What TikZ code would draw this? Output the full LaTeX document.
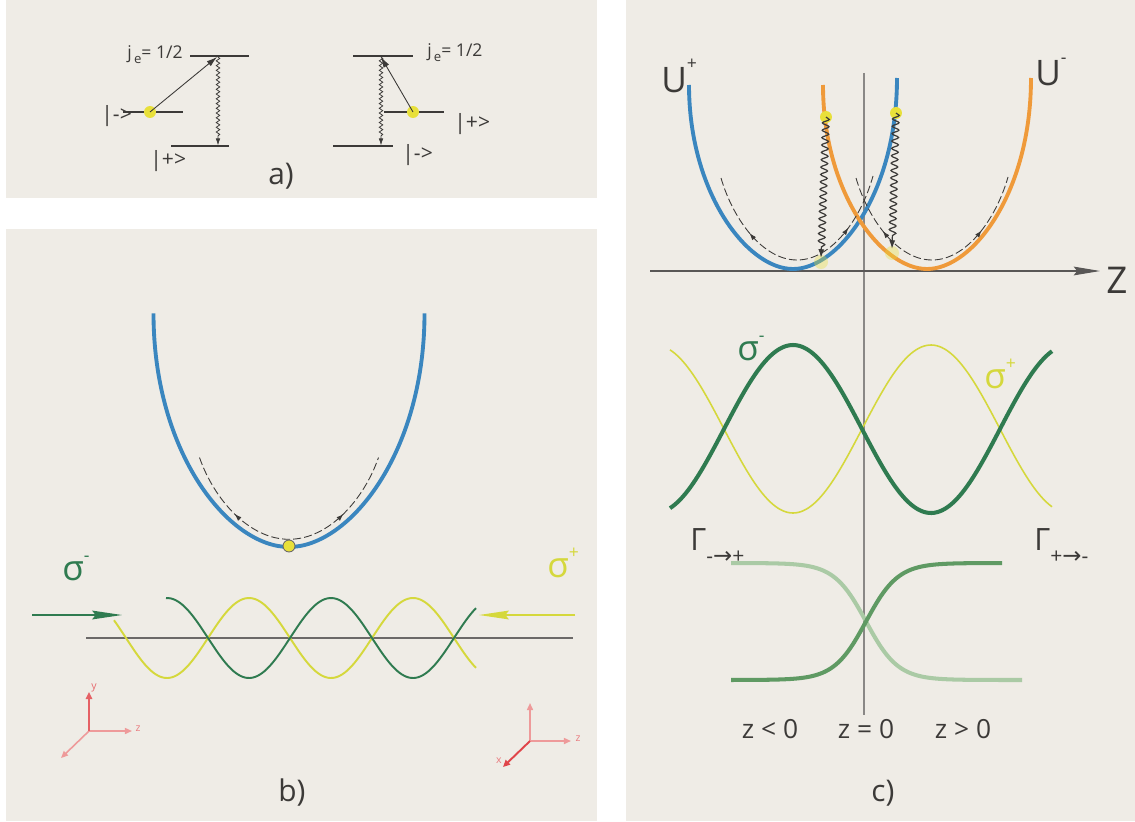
\documentclass[tikz,border=0pt]{standalone}
\usepackage{fontspec}
\setmainfont{Open Sans}
\newfontfamily\symf{DejaVu Sans}
\usetikzlibrary{arrows.meta,decorations.pathmorphing,decorations.markings}
\definecolor{panel}{HTML}{EFECE6}
\definecolor{txt}{HTML}{3C3A38}
\definecolor{ublue}{HTML}{3A86BF}
\definecolor{uorange}{HTML}{EF9A3A}
\definecolor{sgreen}{HTML}{2F7B50}
\definecolor{syellow}{HTML}{D5D83C}
\definecolor{dotyellow}{HTML}{E8E03A}
\definecolor{axisgray}{HTML}{6B6968}
\definecolor{vgray}{HTML}{8A8886}
\definecolor{gpale}{HTML}{AACAA5}
\definecolor{gdark}{HTML}{5F9A63}
\definecolor{redlight}{HTML}{EE9A9A}
\definecolor{redstrong}{HTML}{E0454A}
\newcommand{\supr}[2]{\raisebox{#1}{\fontsize{10}{10}\selectfont #2}}
\begin{document}
\begin{tikzpicture}[x=0.02cm,y=-0.02cm,
  level/.style={draw=txt, line width=1.1pt},
  ket/.style={font=\fontsize{12}{12}\selectfont, text=txt, inner sep=0pt},
  jlab/.style={font=\fontsize{10}{10}\selectfont, text=txt, inner sep=0pt},
  panellab/.style={font=\fontsize{17}{17}\selectfont, text=txt, inner sep=0pt},
  zlab/.style={font=\fontsize{15}{15}\selectfont, text=txt, inner sep=0pt},
  biglab/.style={font=\fontsize{20}{20}\selectfont, inner sep=0pt},
  gamlab/.style={font=\fontsize{17.5}{17.5}\selectfont, text=txt, inner sep=0pt},
  axlab/.style={font=\fontsize{6}{6}\selectfont, inner sep=0pt},
  excite/.style={draw=txt, line width=0.5pt, -{Latex[length=6pt,width=3.6pt]}},
  wavya/.style={draw=txt, line width=0.45pt, decorate,
    decoration={snake, amplitude=1pt, segment length=2.7pt, post length=5pt},
    -{Latex[length=4pt,width=2.6pt]}},
  wavyc/.style={draw=txt, line width=0.7pt, decorate,
    decoration={snake, amplitude=1.9pt, segment length=4.2pt, post length=6pt},
    -{Latex[length=5pt,width=3.4pt]}},
  ydot/.style={circle, fill=dotyellow, minimum size=6.8pt, inner sep=0pt},
  glow/.style={circle, fill=dotyellow, opacity=0.35, minimum size=8pt, inner sep=0pt},
  dasharc/.style 2 args={draw=txt, line width=0.5pt, dash pattern=on 4.5pt off 1.8pt,
    postaction={decorate, decoration={markings,
      mark=at position #1 with {\arrowreversed{Latex[length=4.2pt,width=2.8pt]}},
      mark=at position #2 with {\arrow{Latex[length=4.2pt,width=2.8pt]}}}}},
  redax/.style={draw=redlight, line width=0.9pt, -{Triangle[length=4pt,width=3.4pt]}},
  redaxs/.style={draw=redstrong, line width=1.1pt, -{Triangle[length=4pt,width=3.6pt]}},
  ucurve/.style={line width=2.2pt}
]
\useasboundingbox (0,0) rectangle (1135,821);
\fill[white] (0,0) rectangle (1135,821);
\fill[panel] (6,0) rectangle (597,198);
\fill[panel] (6,229) rectangle (597,821);
\fill[panel] (626,0) rectangle (1135,821);

% ---------------- panel a, left
\draw[level] (190,56) -- (249,56);
\draw[level] (123,112) -- (183,112);
\draw[level] (171,146) -- (229,146);
\node[ydot] (dA1) at (150,112) {};
\coordinate (tA1) at (217,57);
\coordinate (wA1s) at (218,57);
\coordinate (wA1e) at (218,145.5);
\draw[excite] (dA1.center) -- (tA1);
\draw[wavya] (wA1s) -- (wA1e);
\node[jlab, anchor=base east] (jA1) at (183,59) {j\raisebox{-0.45ex}{\fontsize{7.5}{7.5}\selectfont\,e}= 1/2};
\node[ket, anchor=west] (kA1) at (101,116) {|->};
\node[ket, anchor=west] (kA2) at (150,161) {|+>};

% ---------------- panel a, right
\draw[level] (353,56) -- (413,56);
\draw[level] (384,112) -- (444,112);
\draw[level] (333,146) -- (393,146);
\node[ydot] (dA2) at (413,112) {};
\coordinate (tA2) at (381,57);
\coordinate (wA2s) at (381,57);
\coordinate (wA2e) at (381,145.5);
\draw[excite] (dA2.center) -- (tA2);
\draw[wavya] (wA2s) -- (wA2e);
\node[jlab, anchor=base west] (jA2) at (427,57) {j\raisebox{-0.45ex}{\fontsize{7.5}{7.5}\selectfont\,e}= 1/2};
\node[ket, anchor=west] (kA3) at (454,124) {|+>};
\node[ket, anchor=west] (kA4) at (402,155) {|->};
\node[panellab] (la) at (281,176) {a)};

% ---------------- panel b
\draw[ublue, ucurve] (153.5,313.3) .. controls (153.5,453.3) and (229,547) .. (289,547)
  .. controls (349,547) and (424.5,453.3) .. (424.5,313.3);
\draw[dasharc={0.26}{0.74}] (199.5,457.5) .. controls (214,499.3) and (249,539.3) .. (289,539.3)
  .. controls (329,539.3) and (364,499.3) .. (378.5,457.5);
\node[ydot, draw=axisgray, line width=0.5pt] (dB) at (289,546) {};
\draw[axisgray, line width=0.7pt] (86,638) -- (573,638);
\draw[syellow, line width=1.1pt] plot[domain=114:476, samples=150] (\x,{638+40*sin(2.19512*(\x-126))});
\draw[sgreen, line width=1.1pt] plot[domain=166:476, samples=130] (\x,{638-40*sin(2.19512*(\x-126))});
\coordinate (gAs) at (32,615);
\coordinate (gAe) at (122,615);
\coordinate (yAs) at (575,615);
\coordinate (yAe) at (479,615);
\draw[sgreen, line width=0.9pt, -{Stealth[length=17pt,width=5pt,inset=2pt]}] (gAs) -- (gAe);
\draw[syellow, line width=0.9pt, -{Stealth[length=17pt,width=5pt,inset=2pt]}] (yAs) -- (yAe);
\node[biglab, text=sgreen, anchor=base west] (sgB) at (62,580) {σ\supr{1.0ex}{-}};
\node[biglab, text=syellow, anchor=base west] (syB) at (547,577) {σ\supr{1.0ex}{+}};
% axes left
\coordinate (oL) at (89,731);
\coordinate (oLy) at (89,692);
\coordinate (oLz) at (132,731);
\coordinate (oLx) at (61,758);
\draw[redax] (oL) -- (oLz);
\draw[redax] (oL) -- (oLx);
\draw[redaxs, draw=redstrong!85] (oL) -- (oLy);
\node[axlab, text=redstrong!80] (ly) at (94,688) {y};
\node[axlab, text=redstrong!70] (lz) at (138,729) {z};
% axes right
\coordinate (oR) at (530,741);
\coordinate (oRy) at (530,703);
\coordinate (oRz) at (571,741);
\coordinate (oRx) at (503,767);
\draw[redax] (oR) -- (oRy);
\draw[redax] (oR) -- (oRz);
\draw[redaxs] (oR) -- (oRx);
\node[axlab, text=redstrong!70] (rz) at (578,739) {z};
\node[axlab, text=redstrong!70] (rx) at (499,761) {x};
\node[panellab] (lb) at (292,793) {b)};

% ---------------- panel c
\draw[vgray, line width=0.6pt] (864,73) -- (864,715);
\coordinate (zs) at (650,271);
\coordinate (ze) at (1100,271);
\draw[txt!85, line width=0.6pt, -{Stealth[length=15pt,width=5pt,inset=2pt]}] (zs) -- (ze);
\node[font=\fontsize{21}{21}\selectfont, text=txt, inner sep=0pt] (lZ) at (1117,280) {Z};
\draw[ublue, ucurve] (689,85) .. controls (689,192.4) and (747,269) .. (793,269)
  .. controls (839,269) and (897,192.4) .. (897,78);
\draw[uorange, ucurve] (823,85) .. controls (823,192.4) and (881,269) .. (927,269)
  .. controls (973,269) and (1031,192.4) .. (1031,78);
\draw[dasharc={0.26}{0.76}] (721,178) .. controls (733.3,220) and (763,260) .. (797,260)
  .. controls (831,260) and (860.7,220) .. (873,176);
\draw[dasharc={0.25}{0.75}] (856,178) .. controls (868.3,220) and (898,260) .. (932,260)
  .. controls (966,260) and (995.7,220) .. (1008,177);
\node[glow] (g1) at (821,262) {};
\node[glow] (g2) at (892,253) {};
\node[ydot] (dC1) at (826,117) {};
\node[ydot] (dC2) at (896,113) {};
\coordinate (wC1e) at (821,258);
\coordinate (wC2e) at (892,249);
\draw[wavyc] (dC1.center) -- (wC1e);
\draw[wavyc] (dC2.center) -- (wC2e);
\node[biglab, text=txt, anchor=base west] (lUp) at (661,92) {U\supr{1.2ex}{+}};
\node[biglab, text=txt, anchor=base west] (lUm) at (1035,86) {U\supr{1.2ex}{-}};
% sigma waves
\draw[syellow, line width=0.9pt] plot[domain=670:1052, samples=150] (\x,{429-84*cos(1.304348*(\x-931))});
\draw[sgreen, line width=2.3pt] plot[domain=670:1052, samples=150] (\x,{429+84*cos(1.304348*(\x-931))});
\node[biglab, text=sgreen, anchor=base west] (sgC) at (737,360) {σ\supr{1.0ex}{-}};
\node[biglab, text=syellow, anchor=base west] (syC) at (984,388) {σ\supr{1.0ex}{+}};
% Gamma curves
\draw[gpale, line width=2.3pt] plot[domain=731:1022, samples=120] (\x,{621.5+58.5*tanh((\x-866)/32)});
\draw[gdark, line width=2.3pt] plot[domain=731:1002, samples=120] (\x,{621.5-58.5*tanh((\x-866)/32)});
\node[gamlab, anchor=base west] (G1) at (690,550) {Γ\raisebox{-7.5pt}{\fontsize{12}{12}\selectfont -{\symf\fontsize{13}{13}\selectfont →}+}};
\node[gamlab, anchor=base west] (G2) at (1034,550) {Γ\raisebox{-7.5pt}{\fontsize{12}{12}\selectfont +{\symf\fontsize{13}{13}\selectfont →}-}};
\node[zlab] (zl) at (770,729) {z < 0};
\node[zlab] (z0) at (866,729) {z = 0};
\node[zlab] (zg) at (963,729) {z > 0};
\node[panellab] (lc) at (883,793) {c)};
\end{tikzpicture}
\end{document}
